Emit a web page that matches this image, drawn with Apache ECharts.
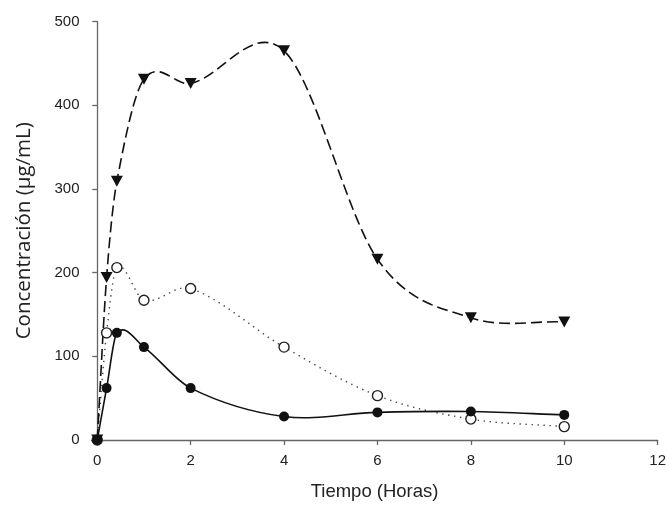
<!DOCTYPE html>
<html>
<head>
<meta charset="utf-8">
<script src="https://cdn.jsdelivr.net/npm/echarts@6/dist/echarts.min.js"></script>
<style>
html,body{margin:0;padding:0;background:#fff;}
#chart{width:669px;height:506px;}
</style>
</head>
<body>
<div id="chart"></div>
<script>
// Time points (hours)
var timePoints = [0, 0.2, 0.42, 1, 2, 4, 6, 8, 10];
// Series values (µg/mL)
var triangleValues = [0, 194, 309, 431, 426, 465, 216, 146, 141];
var openCircleValues = [0, 128, 206, 167, 181, 111, 53, 25, 16];
var filledCircleValues = [0, 62, 128, 111, 62, 28, 33, 34, 30];
// Tick labels
var xTicks = [0, 2, 4, 6, 8, 10, 12];
var yTicks = [0, 100, 200, 300, 400, 500];

function pairs(xs, ys) {
  return xs.map(function (x, i) { return [x, ys[i]]; });
}

// Catmull-Rom style (finite difference) tangents at the knots
function knotSlopes(xs, ys) {
  var n = xs.length - 1, s = [];
  for (var i = 0; i <= n; i++) {
    var a = Math.max(0, i - 1), b = Math.min(n, i + 1);
    s.push((ys[b] - ys[a]) / (xs[b] - xs[a]));
  }
  return s;
}

function splineSeries(xs, ys, style, z) {
  var slopes = knotSlopes(xs, ys);
  return {
    type: 'custom',
    coordinateSystem: 'cartesian2d',
    data: [[xs[0], ys[0]]],
    encode: {x: 0, y: 1},
    silent: true,
    clip: false,
    z: z,
    renderItem: function (params, api) {
      var p0 = api.coord([xs[0], ys[0]]);
      var d = 'M' + p0[0] + ' ' + p0[1];
      for (var i = 0; i < xs.length - 1; i++) {
        var h = xs[i + 1] - xs[i];
        var c1 = api.coord([xs[i] + h / 3, ys[i] + slopes[i] * h / 3]);
        var c2 = api.coord([xs[i + 1] - h / 3, ys[i + 1] - slopes[i + 1] * h / 3]);
        var p = api.coord([xs[i + 1], ys[i + 1]]);
        d += ' C' + c1[0] + ' ' + c1[1] + ' ' + c2[0] + ' ' + c2[1] + ' ' + p[0] + ' ' + p[1];
      }
      return {
        type: 'path',
        shape: {pathData: d},
        style: style
      };
    }
  };
}

var chart = echarts.init(document.getElementById('chart'), null, {renderer: 'canvas'});
var tickFont = {fontFamily: 'Liberation Sans', fontSize: 15, color: '#222'};
var axisGray = '#666';

chart.setOption({
  animation: false,
  backgroundColor: '#fff',
  grid: {left: 91.5, right: 7.7, top: 21.5, bottom: 65, containLabel: false},
  xAxis: {
    type: 'value',
    min: -0.123,
    max: 12,
    name: 'Tiempo (Horas)',
    nameLocation: 'middle',
    nameGap: 42,
    nameTextStyle: {fontFamily: 'Liberation Sans', fontSize: 18.5, color: '#222'},
    axisLine: {show: true, onZero: false, lineStyle: {color: axisGray, width: 1.3}},
    axisTick: {show: true, length: 5, customValues: xTicks, lineStyle: {color: axisGray, width: 1.3}},
    axisLabel: Object.assign({customValues: xTicks, margin: 13}, tickFont),
    splitLine: {show: false}
  },
  yAxis: {
    type: 'value',
    min: 0,
    max: 500,
    interval: 100,
    name: 'Concentración (µg/mL)',
    nameLocation: 'middle',
    nameGap: 57,
    nameTextStyle: {fontFamily: 'Open Sans', fontSize: 20.5, color: '#222'},
    axisLine: {show: true, lineStyle: {color: axisGray, width: 1.3}},
    axisTick: {show: true, length: 5, lineStyle: {color: axisGray, width: 1.3}},
    axisLabel: Object.assign({margin: 12, customValues: yTicks}, tickFont),
    splitLine: {show: false}
  },
  series: [
    splineSeries(timePoints, openCircleValues, {fill: null, stroke: '#444', lineWidth: 1.4, lineDash: [1.4, 4.6]}, 1),
    splineSeries(timePoints, triangleValues, {fill: null, stroke: '#111', lineWidth: 1.6, lineDash: [11, 5]}, 1),
    splineSeries(timePoints, filledCircleValues, {fill: null, stroke: '#111', lineWidth: 1.6}, 1),
    {
      type: 'scatter',
      data: pairs(timePoints, openCircleValues),
      symbol: 'circle',
      symbolSize: 10,
      itemStyle: {color: '#fff', borderColor: '#222', borderWidth: 1.4, opacity: 1},
      z: 3
    },
    {
      type: 'scatter',
      data: pairs(timePoints, triangleValues),
      symbol: 'triangle',
      symbolRotate: 180,
      symbolSize: [12, 11],
      itemStyle: {color: '#111', borderWidth: 0, opacity: 1},
      z: 4
    },
    {
      type: 'scatter',
      data: pairs(timePoints, filledCircleValues),
      symbol: 'circle',
      symbolSize: 10,
      itemStyle: {color: '#111', borderWidth: 0, opacity: 1},
      z: 5
    }
  ]
});
</script>
</body>
</html>
